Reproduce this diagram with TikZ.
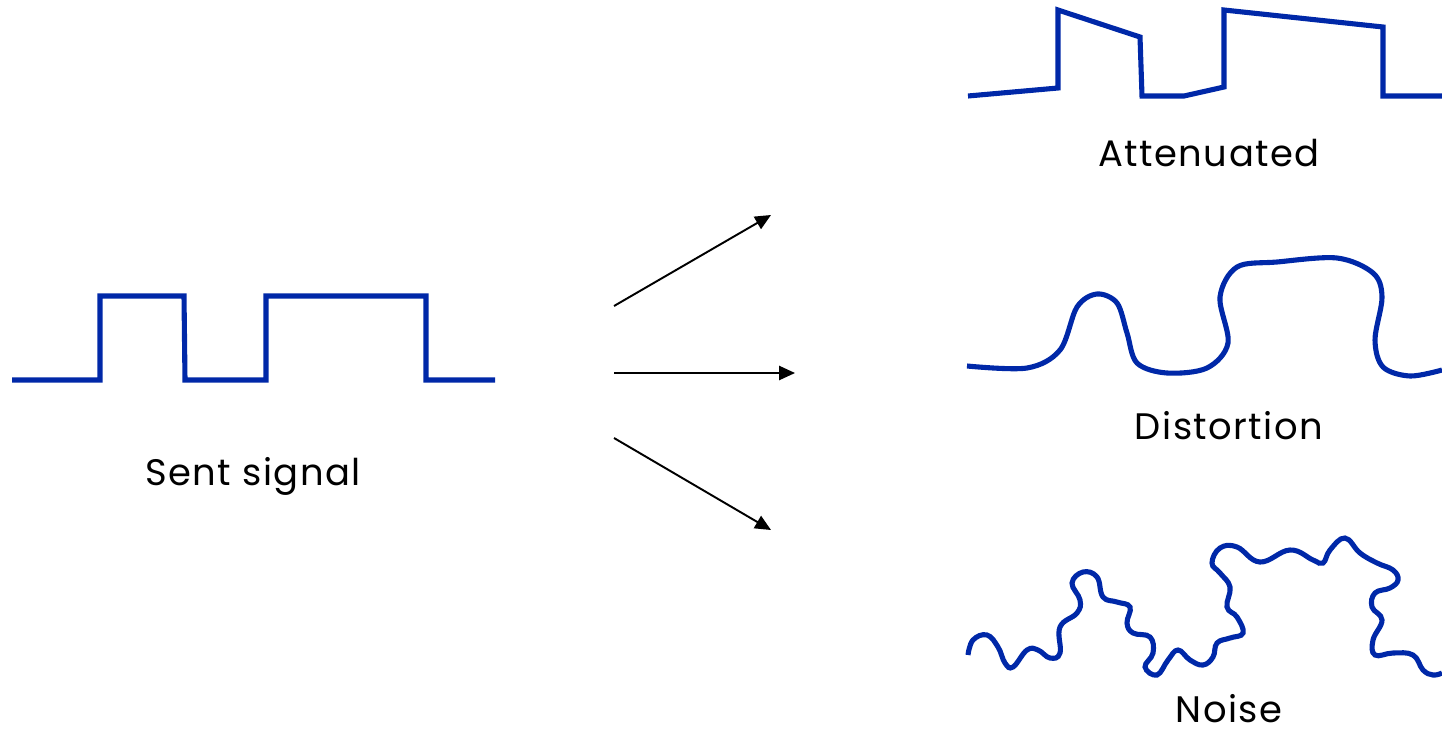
\documentclass[tikz,border=0pt]{standalone}
\usepackage{fontspec}
\setmainfont{Poppins}[LetterSpace=4]
\usepackage{xcolor}
\usepackage{tikz}
\usetikzlibrary{arrows.meta}
\definecolor{sigblue}{RGB}{0,40,168}
\tikzstyle{wave} = [line width=2.9pt, draw=sigblue, line join=miter]
\tikzstyle{label} = [font=\fontsize{21}{24}\selectfont, text=black, inner sep=0pt]
\tikzstyle{arrow} = [line width=1.1pt, -{Triangle[length=9pt, width=8pt]}]

\begin{document}
\begin{tikzpicture}[x=0.02cm, y=-0.02cm]
		\useasboundingbox (0,0) rectangle (1442,730);
		
		% square wave as it leaves the sender
		\draw [wave] (12,380) -- (100,380) -- (100,296) -- (184,296) -- (185,380) -- (266,380) -- (266,296) -- (426,296) -- (426,380) -- (495,380);
		\node (Sent) [label] at (253,476) {Sent signal};
		
		% the three ways it arrives
		\coordinate (up0) at (614,306);
		\coordinate (up1) at (771,215);
		\coordinate (mid0) at (614,373);
		\coordinate (mid1) at (795,373);
		\coordinate (down0) at (614,438);
		\coordinate (down1) at (771,530);
		\draw [arrow] (up0) -- (up1);
		\draw [arrow] (mid0) -- (mid1);
		\draw [arrow] (down0) -- (down1);
		
		% attenuated
		\draw [wave] (968,96) -- (1058,88) -- (1058,10) -- (1140,37) -- (1142,96) -- (1184,96) -- (1224,87) -- (1224,10) -- (1383,27) -- (1383,96) -- (1442,96);
		\node (Atten) [label] at (1209,153) {Attenuated};
		
		% distortion
		\draw [wave, line cap=butt] plot [smooth, tension=0.55] coordinates {(967,366) (1027,368) (1060,350) (1077,307) (1097,294) (1117,303) (1127,333) (1137,363) (1167,373) (1207,368) (1228,343) (1220,297) (1237,267) (1277,262) (1337,258) (1373,273) (1382,297) (1375,340) (1383,367) (1410,376) (1442,370)};
		\node (Distort) [label] at (1229,426) {Distortion};
		
		% noise
		\draw [wave, line cap=butt] plot [smooth, tension=0.7] coordinates {(968,655) (973,640) (987,635) (998,647) (1005,663) (1013,667) (1027,650) (1038,650) (1050,658) (1060,653) (1060,627) (1077,613) (1080,600) (1072,583) (1083,572) (1097,577) (1103,597) (1117,602) (1130,607) (1127,623) (1133,633) (1150,637) (1153,653) (1145,667) (1157,675) (1168,660) (1178,650) (1190,660) (1203,665) (1213,657) (1217,643) (1230,638) (1243,633) (1237,617) (1227,607) (1230,587) (1220,573) (1212,563) (1220,548) (1237,547) (1260,562) (1290,550) (1313,560) (1323,563) (1330,550) (1345,538) (1360,553) (1377,563) (1393,570) (1398,580) (1390,588) (1375,593) (1372,607) (1382,620) (1373,640) (1375,655) (1393,653) (1413,655) (1423,670) (1433,675) (1442,673)};
		\node (Noise) [label] at (1229,709) {Noise};
	\end{tikzpicture}
\end{document}
